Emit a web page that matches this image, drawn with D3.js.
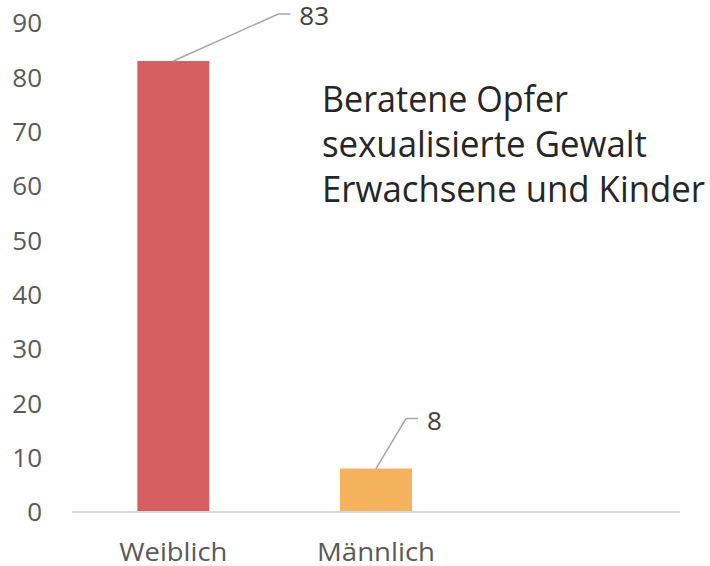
<!DOCTYPE html>
<html><head><meta charset="utf-8">
<script src="https://cdn.jsdelivr.net/npm/d3@7/dist/d3.min.js"></script>
<style>body{margin:0;background:#fff}svg{display:block}</style>
</head><body>
<script>
const categories = ["Weiblich", "Männlich", ""];
const values = [83, 8, null];
const barColors = ["#D65F5F", "#F5B25C", "#999"];
const yTicks = [0, 10, 20, 30, 40, 50, 60, 70, 80, 90];
const titleLines = ["Beratene Opfer", "sexualisierte Gewalt", "Erwachsene und Kinder"];

const W = 710, H = 566;
const svg = d3.select("body").append("svg").attr("width", W).attr("height", H);
const font = "'Open Sans', 'Noto Sans', sans-serif";

const x = d3.scaleBand().domain(categories).range([72, 680]).paddingInner(0.645).paddingOuter(0.3225);
const y = d3.scaleLinear().domain([0, 90]).range([512, 23]);

// y tick labels
svg.append("g").selectAll("text").data(yTicks).join("text")
  .attr("x", 42).attr("y", d => y(d)).attr("dy", "0.36em")
  .attr("text-anchor", "end").attr("font-family", font).attr("font-size", 26)
  .attr("fill", "#595959").text(d => d);

// bars
const data = categories.map((c, i) => ({c, v: values[i], col: barColors[i]})).filter(d => d.v != null);
svg.append("g").selectAll("rect").data(data).join("rect")
  .attr("x", d => x(d.c)).attr("width", x.bandwidth())
  .attr("y", d => y(d.v)).attr("height", d => y(0) - y(d.v))
  .attr("fill", d => d.col);

// axis line
svg.append("line").attr("x1", 72).attr("x2", 680).attr("y1", y(0)).attr("y2", y(0))
  .attr("stroke", "#D9D9D9").attr("stroke-width", 2);

// category labels
svg.append("g").selectAll("text").data(categories.filter(c => c)).join("text")
  .attr("x", d => x(d) + x.bandwidth() / 2).attr("y", 561)
  .attr("text-anchor", "middle").attr("font-family", font).attr("font-size", 26)
  .attr("fill", "#595959")
  .attr("textLength", d => d === "Weiblich" ? 108 : 118).attr("lengthAdjust", "spacingAndGlyphs")
  .text(d => d);

// data labels with leader lines
const labelOffsets = [{dx: 105, dy: -47, hx: 12}, {dx: 30, dy: -50, hx: 12}];
data.forEach((d, i) => {
  const o = labelOffsets[i];
  const cx = x(d.c) + x.bandwidth() / 2, cy = y(d.v);
  const ex = cx + o.dx, ey = cy + o.dy;
  svg.append("polyline")
    .attr("points", `${cx},${cy} ${ex},${ey} ${ex + o.hx},${ey}`)
    .attr("fill", "none").attr("stroke", "#A6A6A6").attr("stroke-width", 1.5);
  svg.append("text").attr("x", ex + o.hx + 9).attr("y", ey + 2).attr("dy", "0.36em")
    .attr("font-family", font).attr("font-size", 26).attr("fill", "#404040").text(d.v);
});

// title
const titleWidths = [246, 325, 383];
svg.append("g").selectAll("text").data(titleLines).join("text")
  .attr("x", 322).attr("y", (d, i) => 112 + i * 45)
  .attr("font-family", font).attr("font-size", 36).attr("fill", "#262626")
  .attr("textLength", (d, i) => titleWidths[i]).attr("lengthAdjust", "spacingAndGlyphs")
  .text(d => d);
</script>
</body></html>
